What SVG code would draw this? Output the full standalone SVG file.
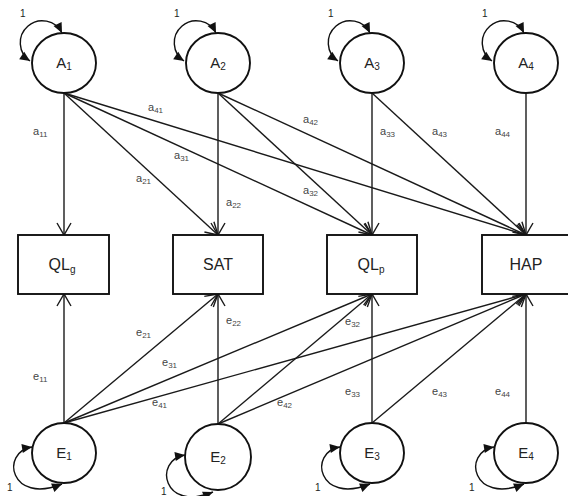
<svg xmlns="http://www.w3.org/2000/svg" width="568" height="496" viewBox="0 0 568 496">
<defs>
<marker id="open" markerUnits="userSpaceOnUse" markerWidth="16" markerHeight="16" refX="12" refY="7" orient="auto" overflow="visible">
<path d="M0,0 L12,7 L0,14" fill="none" stroke="#1a1a1a" stroke-width="1.4"/>
</marker>
<marker id="fill" markerUnits="userSpaceOnUse" markerWidth="12" markerHeight="12" refX="10" refY="4.5" orient="auto-start-reverse" overflow="visible">
<path d="M0,0 L10,4.5 L0,9 Z" fill="#111"/>
</marker>
<style>
.node ellipse, .node rect { fill: #fff; stroke: #111; stroke-width: 1.9; }
.nt { font-family: "Liberation Sans", Arial, sans-serif; font-size: 15px; fill: #222; text-anchor: middle; }
.bt { font-family: "Liberation Sans", Arial, sans-serif; font-size: 16px; fill: #222; text-anchor: middle; }
.sub { font-size: 10px; }
.edge { stroke: #1a1a1a; stroke-width: 1.4; fill: none; marker-end: url(#open); }
.loop { stroke: #111; stroke-width: 1.4; fill: none; marker-start: url(#fill); marker-end: url(#fill); }
.lbl { font-family: "Liberation Sans", Arial, sans-serif; font-size: 11px; fill: #444; }
.lbl tspan { font-size: 8px; }
.one { font-family: "Liberation Sans", Arial, sans-serif; font-size: 10px; fill: #222; }
</style>
</defs>

<g id="connectors">
<line class="edge" x1="64" y1="93" x2="64" y2="235"/>
<line class="edge" x1="64" y1="93" x2="218" y2="235"/>
<line class="edge" x1="64" y1="93" x2="372" y2="235"/>
<line class="edge" x1="64" y1="93" x2="526" y2="235"/>
<line class="edge" x1="218" y1="93" x2="218" y2="235"/>
<line class="edge" x1="218" y1="93" x2="372" y2="235"/>
<line class="edge" x1="218" y1="93" x2="526" y2="235"/>
<line class="edge" x1="372" y1="93" x2="372" y2="235"/>
<line class="edge" x1="372" y1="93" x2="526" y2="235"/>
<line class="edge" x1="526" y1="93" x2="526" y2="235"/>
<line class="edge" x1="64" y1="423" x2="64" y2="294"/>
<line class="edge" x1="64" y1="423" x2="218" y2="294"/>
<line class="edge" x1="64" y1="423" x2="372" y2="294"/>
<line class="edge" x1="64" y1="423" x2="526" y2="294"/>
<line class="edge" x1="218" y1="424" x2="218" y2="294"/>
<line class="edge" x1="218" y1="424" x2="372" y2="294"/>
<line class="edge" x1="218" y1="424" x2="526" y2="294"/>
<line class="edge" x1="372" y1="423" x2="372" y2="294"/>
<line class="edge" x1="372" y1="423" x2="526" y2="294"/>
<line class="edge" x1="526" y1="423" x2="526" y2="294"/>
<path class="loop" d="M62,33 A22,22 0 1 0 30,61"/>
<path class="loop" d="M216,33 A22,22 0 1 0 184,61"/>
<path class="loop" d="M370,33 A22,22 0 1 0 338,61"/>
<path class="loop" d="M524,33 A22,22 0 1 0 492,61"/>
<path class="loop" d="M32,447 C0,452 10,505 62,484"/>
<path class="loop" d="M185,455 C153,460 163,513 213,492"/>
<path class="loop" d="M340,447 C308,452 318,505 370,484"/>
<path class="loop" d="M494,447 C462,452 472,505 524,484"/>
<text class="lbl" x="33" y="135">a<tspan dy="2">11</tspan></text>
<text class="lbl" x="148" y="111">a<tspan dy="2">41</tspan></text>
<text class="lbl" x="303" y="123">a<tspan dy="2">42</tspan></text>
<text class="lbl" x="380" y="135">a<tspan dy="2">33</tspan></text>
<text class="lbl" x="432" y="135">a<tspan dy="2">43</tspan></text>
<text class="lbl" x="495" y="135">a<tspan dy="2">44</tspan></text>
<text class="lbl" x="174" y="159">a<tspan dy="2">31</tspan></text>
<text class="lbl" x="136" y="182">a<tspan dy="2">21</tspan></text>
<text class="lbl" x="303" y="194">a<tspan dy="2">32</tspan></text>
<text class="lbl" x="226" y="206">a<tspan dy="2">22</tspan></text>
<text class="lbl" x="136" y="336">e<tspan dy="2">21</tspan></text>
<text class="lbl" x="226" y="324">e<tspan dy="2">22</tspan></text>
<text class="lbl" x="162" y="366">e<tspan dy="2">31</tspan></text>
<text class="lbl" x="345" y="325">e<tspan dy="2">32</tspan></text>
<text class="lbl" x="33" y="380">e<tspan dy="2">11</tspan></text>
<text class="lbl" x="152" y="406">e<tspan dy="2">41</tspan></text>
<text class="lbl" x="277" y="406">e<tspan dy="2">42</tspan></text>
<text class="lbl" x="345" y="395">e<tspan dy="2">33</tspan></text>
<text class="lbl" x="432" y="395">e<tspan dy="2">43</tspan></text>
<text class="lbl" x="495" y="395">e<tspan dy="2">44</tspan></text>
<text class="one" x="20" y="17">1</text>
<text class="one" x="174" y="17">1</text>
<text class="one" x="328" y="17">1</text>
<text class="one" x="482" y="17">1</text>
<text class="one" x="7" y="491">1</text>
<text class="one" x="161" y="495">1</text>
<text class="one" x="315" y="491">1</text>
<text class="one" x="469" y="491">1</text>
</g>

<g id="A1" class="node"><ellipse cx="64" cy="63" rx="32" ry="30"/><text class="nt" x="64" y="68">A<tspan class="sub" dy="2">1</tspan></text></g>
<g id="A2" class="node"><ellipse cx="218" cy="63" rx="32" ry="30"/><text class="nt" x="218" y="68">A<tspan class="sub" dy="2">2</tspan></text></g>
<g id="A3" class="node"><ellipse cx="372" cy="63" rx="32" ry="30"/><text class="nt" x="372" y="68">A<tspan class="sub" dy="2">3</tspan></text></g>
<g id="A4" class="node"><ellipse cx="526" cy="63" rx="32" ry="30"/><text class="nt" x="526" y="68">A<tspan class="sub" dy="2">4</tspan></text></g>

<g id="QLg" class="node"><rect x="18" y="235" width="91" height="59"/><text class="bt" x="62" y="270">QL<tspan class="sub" font-size="11" dy="3">g</tspan></text></g>
<g id="SAT" class="node"><rect x="173" y="235" width="90" height="59"/><text class="bt" x="218" y="270">SAT</text></g>
<g id="QLp" class="node"><rect x="327" y="235" width="90" height="59"/><text class="bt" x="371" y="270">QL<tspan class="sub" font-size="11" dy="3">p</tspan></text></g>
<g id="HAP" class="node"><rect x="482" y="235" width="90" height="59"/><text class="bt" x="526" y="270">HAP</text></g>

<g id="E1" class="node"><ellipse cx="64" cy="453" rx="32" ry="30"/><text class="nt" x="64" y="458">E<tspan class="sub" dy="2">1</tspan></text></g>
<g id="E2" class="node"><ellipse cx="218" cy="457" rx="33" ry="33"/><text class="nt" x="218" y="462">E<tspan class="sub" dy="2">2</tspan></text></g>
<g id="E3" class="node"><ellipse cx="372" cy="453" rx="32" ry="30"/><text class="nt" x="372" y="458">E<tspan class="sub" dy="2">3</tspan></text></g>
<g id="E4" class="node"><ellipse cx="526" cy="453" rx="32" ry="30"/><text class="nt" x="526" y="458">E<tspan class="sub" dy="2">4</tspan></text></g>
</svg>
